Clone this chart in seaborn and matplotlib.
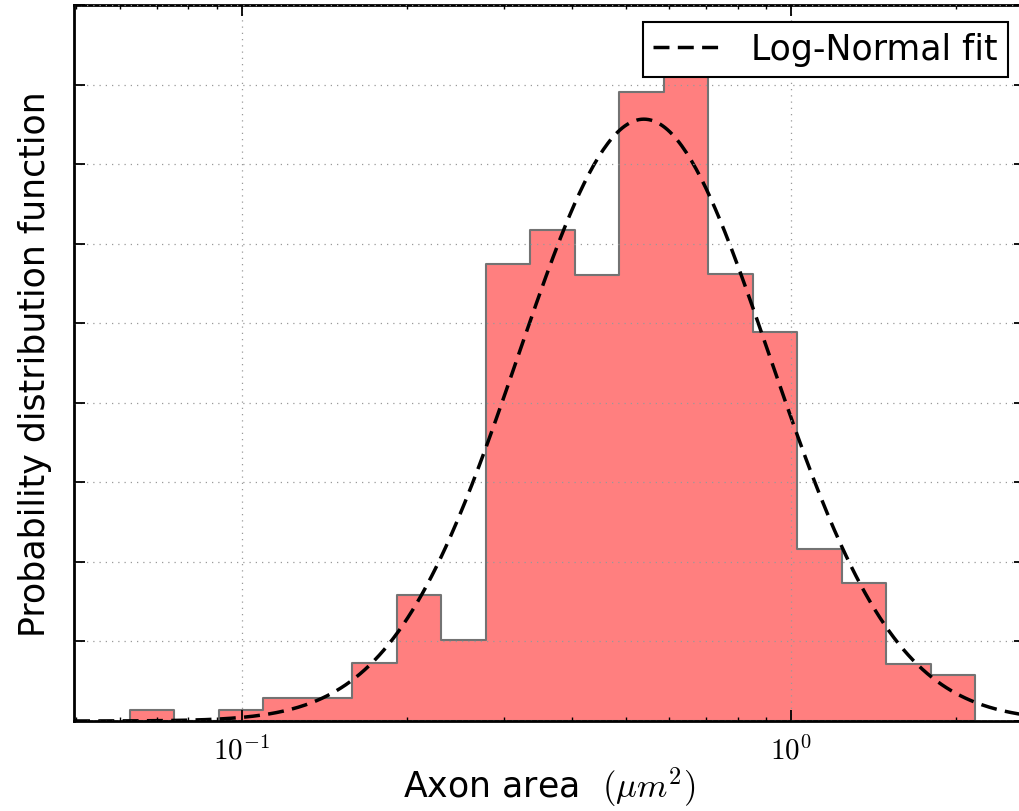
import numpy as np
import matplotlib
matplotlib.use("Agg")
import matplotlib.pyplot as plt
import seaborn as sns

# Histogram of axon areas: logarithmic bin edges and bar heights (PDF units)
bin_lo, bin_hi = 0.0626, 2.167
n_bins = 19
pdf_heights = [0.028, 0.0, 0.028, 0.058, 0.058, 0.145, 0.316, 0.203,
               1.150, 1.235, 1.121, 1.582, 1.640, 1.124, 0.978, 0.432,
               0.347, 0.144, 0.116]

# Log-normal fit parameters (mode, width in decades, peak height)
fit_mode = 0.54
fit_sigma_dex = 0.229
fit_peak = 1.513

x_limits = (0.0495, 2.67)
y_limits = (0.0, 1.8)
y_ticks = [0.0, 0.2, 0.4, 0.6, 0.8, 1.0, 1.2, 1.4, 1.6, 1.8]

plt.rcParams.update({
    "font.family": ["DejaVu Sans"],
    "mathtext.fontset": "cm",
    "axes.linewidth": 2.0,
    "xtick.direction": "in",
    "ytick.direction": "in",
    "xtick.top": True,
    "ytick.right": True,
    "xtick.major.size": 8,
    "xtick.minor.size": 3,
    "ytick.major.size": 8,
    "xtick.major.width": 1.3,
    "xtick.minor.width": 1.0,
    "ytick.major.width": 1.3,
})

fig = plt.figure(figsize=(10.2, 8.12), dpi=100)
ax = fig.add_axes([74 / 1020, (812 - 722) / 812, (1025 - 74) / 1020, (722 - 6) / 812])

log_edges = np.linspace(np.log10(bin_lo), np.log10(bin_hi), n_bins + 1)
centers = 10 ** (0.5 * (log_edges[:-1] + log_edges[1:]))

sns.histplot(x=centers, weights=pdf_heights, bins=[float(e) for e in log_edges],
             log_scale=True, element="step", fill=True, color="red", alpha=0.5,
             edgecolor="0.45", linewidth=1.5, ax=ax)

# Log-normal fit curve
xs = np.logspace(np.log10(x_limits[0]), np.log10(x_limits[1]), 400)
ys = fit_peak * np.exp(-(np.log10(xs) - np.log10(fit_mode)) ** 2 / (2 * fit_sigma_dex ** 2))
sns.lineplot(x=xs, y=ys, color="black", linewidth=2.5, linestyle=(0, (4.6, 2.4)),
             label="Log-Normal fit", ax=ax, sort=False)

ax.set_xscale("log")
ax.set_xlim(*x_limits)
ax.set_ylim(*y_limits)
ax.set_yticks(y_ticks)
ax.set_yticklabels([])
ax.set_xticks([0.1, 1.0])
ax.set_xticklabels([r"$10^{-1}$", r"$10^{0}$"], fontsize=21)
ax.tick_params(axis="x", which="major", pad=10)
ax.grid(True, which="major", linestyle=(0, (1, 4)), color="0.6", linewidth=0.9)
ax.set_axisbelow(False)

ax.set_xlabel(r"Axon area  $(\mu m^2)$", fontsize=25, labelpad=0.5)
ax.set_ylabel("Probability distribution function", fontsize=25, labelpad=12)

leg = ax.legend(loc="upper right", bbox_to_anchor=(1008 / 1020, (812 - 23) / 812),
                bbox_transform=fig.transFigure, borderaxespad=0, fontsize=25,
                fancybox=False, framealpha=1, edgecolor="black",
                handlelength=1.95, handletextpad=0.86, borderpad=0.3)
leg.get_frame().set_linewidth(1.5)

fig.savefig("out.png", dpi=100)
